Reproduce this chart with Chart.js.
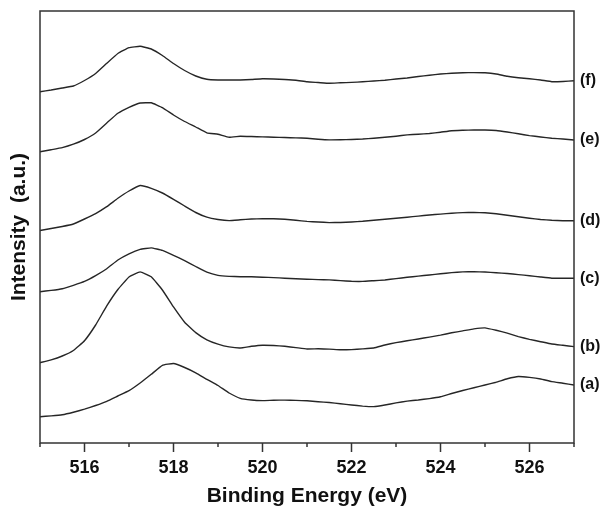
<!DOCTYPE html>
<html>
<head>
<meta charset="utf-8">
<script src="https://cdn.jsdelivr.net/npm/chart.js@4.4.1/dist/chart.umd.min.js"></script>
<style>
  html, body { margin: 0; padding: 0; background: #fff; }
  #wrap { width: 606px; height: 507px; position: relative; }
</style>
</head>
<body>
<div id="wrap"><canvas id="xps"></canvas></div>
<script>
// binding energy grid (eV)
const energy = [515, 515.25, 515.5, 515.75, 516, 516.25, 516.5, 516.75, 517, 517.25,
  517.5, 517.75, 518, 518.25, 518.5, 518.75, 519, 519.25, 519.5, 519.75,
  520, 520.25, 520.5, 520.75, 521, 521.25, 521.5, 521.75, 522, 522.25,
  522.5, 522.75, 523, 523.25, 523.5, 523.75, 524, 524.25, 524.5, 524.75,
  525, 525.25, 525.5, 525.75, 526, 526.25, 526.5, 526.75, 527];

// stacked spectra, arbitrary units (offset already included)
const specA = [26.3, 27.1, 28.2, 30.7, 33.8, 37.5, 41.7, 47, 52.3, 60,
  68.7, 77.7, 79.5, 75.5, 70.2, 63.7, 57.5, 50, 44.7, 43,
  42.4, 42.8, 42.9, 42.6, 42.2, 41.3, 40.5, 39.2, 38, 36.9,
  36.4, 38, 40.1, 41.9, 43, 44.4, 46.3, 49.5, 52.5, 55.3,
  58, 60.8, 64.2, 66.5, 65.6, 64, 61.4, 59.8, 58];
const specB = [80.3, 83.1, 87, 92.5, 102.3, 118, 137.1, 153.5, 166, 171.1,
  166.2, 153, 136.1, 120.8, 110.4, 103.2, 98.9, 96.1, 95, 96.7,
  97.8, 97.5, 96.7, 95.4, 94, 94.2, 93.9, 93.2, 93.4, 94.1,
  95, 98, 100.4, 102.2, 104, 105.9, 107.9, 110.2, 112.1, 114.1,
  115.1, 112.7, 109.9, 106.4, 103.6, 101.3, 99, 97.7, 96.4];
const specC = [151.3, 152.6, 154.3, 157.7, 161.6, 167.4, 174.3, 183, 189.2, 193.6,
  195.1, 192.6, 187.7, 182.4, 176.5, 170.8, 167.6, 166.6, 166.3, 166.3,
  165.8, 165.4, 164.8, 164.3, 163.8, 163.4, 163.1, 162.4, 161.7, 161.6,
  162.3, 163, 164.4, 165.7, 166.9, 168, 169.2, 170.4, 171.1, 171.3,
  171, 170.3, 169.5, 168.4, 167.3, 166, 164.8, 164.7, 164.7];
const specD = [212.5, 214.5, 216.5, 219, 224, 229.4, 236.3, 244.7, 252, 257.5,
  254.7, 250, 243.7, 237, 230.5, 225.8, 223.5, 222.4, 223.2, 224,
  224.3, 224.3, 223.7, 222.7, 221.6, 221, 220.4, 220.5, 221, 221.7,
  222.7, 223.7, 224.7, 225.8, 226.9, 228, 228.9, 229.8, 230.4, 230.6,
  230.2, 229.2, 227.7, 226.2, 224.8, 223.5, 222.7, 222.3, 222.3];
const specE = [291.3, 293.3, 295.4, 298.8, 303.5, 310, 320, 329.7, 335.7, 340,
  340.2, 335.4, 328, 321.5, 316, 310.2, 308.7, 305.7, 306.8, 306.5,
  306.1, 305.8, 305.5, 305.1, 304.8, 303.8, 303.1, 303.2, 303.5, 304,
  304.8, 305.7, 306.8, 308.1, 308.8, 309.5, 310.8, 312.3, 312.7, 313,
  313, 312.5, 311, 309.2, 307.4, 306, 304.7, 304, 303];
const specF = [351.3, 353, 355, 357, 362.5, 369.5, 379.7, 389.5, 395.3, 396.7,
  394, 387.5, 379.5, 372.5, 367, 363.7, 363, 363, 363, 363.5,
  364.2, 364, 363.5, 362.8, 361.2, 360.5, 359.7, 360.2, 360.6, 361.2,
  362, 362.8, 364, 365, 366.5, 367.8, 369, 369.8, 370.3, 370.4,
  370.2, 369, 366.7, 365.2, 364.2, 363, 361.3, 361.5, 362.2];

const seriesLabels = ['(a)', '(b)', '(c)', '(d)', '(e)', '(f)'];
const spectra = [specA, specB, specC, specD, specE, specF];

const FONT = '"Liberation Sans", Arial, sans-serif';
const lineColor = '#262626';

const datasets = spectra.map((s, i) => ({
  label: seriesLabels[i],
  data: s.map((v, j) => ({x: energy[j], y: v})),
  borderColor: lineColor,
  borderWidth: 1.4,
  pointRadius: 0,
  tension: 0.1,
  fill: false
}));

// frame, tick marks and the (a)..(f) tags on the right
const framePlugin = {
  id: 'frame',
  afterDatasetsDraw(chart) {
    const {ctx, chartArea: a} = chart;
    const x = chart.scales.x, y = chart.scales.y;
    ctx.save();
    ctx.strokeStyle = '#333';
    ctx.lineWidth = 1.5;
    ctx.strokeRect(a.left, a.top, a.right - a.left, a.bottom - a.top);
    x.ticks.forEach(t => {
      const px = x.getPixelForValue(t.value);
      const len = t.value % 2 === 0 ? 9 : 4;
      ctx.beginPath();
      ctx.moveTo(px, a.bottom);
      ctx.lineTo(px, a.bottom + len);
      ctx.stroke();
    });
    ctx.fillStyle = '#111';
    ctx.font = 'bold 16px ' + FONT;
    ctx.textAlign = 'left';
    ctx.textBaseline = 'middle';
    chart.data.datasets.forEach(ds => {
      const last = ds.data[ds.data.length - 1];
      ctx.fillText(ds.label, a.right + 6, y.getPixelForValue(last.y));
    });
    ctx.restore();
  }
};

new Chart(document.getElementById('xps'), {
  type: 'line',
  data: { datasets: datasets },
  plugins: [framePlugin],
  options: {
    responsive: true,
    maintainAspectRatio: false,
    animation: false,
    devicePixelRatio: 1,
    layout: { padding: { top: 11, right: 32, left: 0, bottom: 0 } },
    plugins: { legend: { display: false }, tooltip: { enabled: false } },
    scales: {
      x: {
        type: 'linear',
        min: 515,
        max: 527,
        grid: { display: false, drawTicks: false },
        border: { display: false },
        ticks: {
          stepSize: 1,
          autoSkip: false,
          maxRotation: 0,
          padding: 14,
          color: '#111',
          font: { family: FONT, size: 18, weight: 'bold' },
          callback: v => (v % 2 === 0 ? String(v) : '')
        },
        title: {
          display: true,
          text: 'Binding Energy (eV)',
          color: '#111',
          font: { family: FONT, size: 21, weight: 'bold', lineHeight: 1 },
          padding: { top: 0, bottom: 0 }
        },
        afterFit: s => { s.height = 64; }
      },
      y: {
        min: 0,
        max: 432,
        grid: { display: false, drawTicks: false },
        border: { display: false },
        ticks: { display: false },
        title: {
          display: true,
          text: 'Intensity  (a.u.)',
          color: '#111',
          font: { family: FONT, size: 21, weight: 'bold', lineHeight: 1 },
          padding: { top: 9, bottom: 0 }
        },
        afterFit: s => { s.width = 40; }
      }
    }
  }
});
</script>
</body>
</html>
